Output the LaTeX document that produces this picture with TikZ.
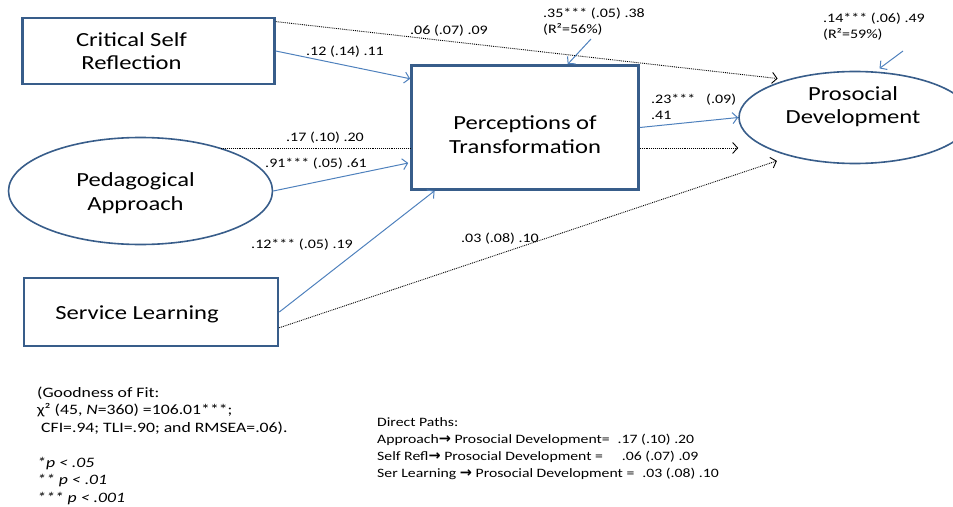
\documentclass[tikz,border=0pt]{standalone}
\usepackage{fontspec}
\setmainfont[FakeStretch=1.23]{Carlito}
\newfontfamily\arrowfont{DejaVu Sans}
\newcommand\pathto{{\arrowfont\bfseries\fontsize{14.5}{17.3}\selectfont →}}
\usetikzlibrary{arrows.meta, shapes.geometric, calc}
\definecolor{BoxBlue}{RGB}{56,93,138}
\definecolor{PathBlue}{RGB}{79,129,189}

\begin{document}
\begin{tikzpicture}[x=1pt, y=-1pt,
	every node/.style={font=\fontsize{13}{16}\selectfont, inner sep=0pt},
	obsbox/.style={rectangle, draw=BoxBlue, line width=2.6pt, fill=white},
	latent/.style={ellipse, draw=BoxBlue, line width=1.6pt, fill=white},
	bigtext/.style={font=\fontsize{20}{23.5}\selectfont, align=center},
	coef/.style={align=left, anchor=west},
	notetext/.style={font=\fontsize{14.4}{17.5}\selectfont, align=left, anchor=north west},
	sigpath/.style={draw=PathBlue, line width=1pt, -{Straight Barb[length=5pt, width=11pt]}},
	dirpath/.style={draw=black, densely dotted, line width=0.9pt, -{Straight Barb[length=5pt, width=11pt]}}]
	\useasboundingbox (0,0) rectangle (953,506);

	\node[obsbox, minimum width=252pt, minimum height=66pt,
		label={[bigtext, xshift=-17pt]center:Critical Self\\Reflection}] (csr) at (148.5,51) {};
	\node[latent, minimum width=264pt, minimum height=107pt,
		label={[bigtext, xshift=-5pt, yshift=-2pt]center:Pedagogical\\Approach}] (ped) at (140.5,191) {};
	\node[obsbox, minimum width=254pt, minimum height=68pt,
		label={[bigtext, xshift=-14pt, yshift=-2pt]center:Service Learning}] (serv) at (151,312) {};
	\node[obsbox, minimum width=227pt, minimum height=124pt,
		label={[bigtext, yshift=-7pt]center:Perceptions of\\Transformation}] (perc) at (525,127.5) {};
	\node[latent, minimum width=232pt, minimum height=92pt,
		label={[bigtext, xshift=-2pt, yshift=11pt]center:Prosocial\\Development}] (pros) at (855,117.5) {};

	\draw[sigpath] (csr.east) -- (perc.157);
	\draw[dirpath, shorten >=9pt] (csr.13) -- (pros.151);
	\draw[sigpath, shorten >=2pt] (ped.east) -- (perc.197);
	\draw[densely dotted, line width=0.9pt] (ped.28) -- (ped.28 -| perc.west);
	\draw[dirpath] (ped.28 -| perc.east) -- (ped.28 -| pros.west);
	\draw[sigpath] (serv.east) -- (perc.-145);
	\draw[dirpath, shorten >=14pt] (serv.-7) -- (pros.-149);
	\draw[sigpath] (perc.east) -- (pros.west);

	\coordinate (eperc) at (591,39);
	\coordinate (epros) at (903,51);
	\draw[sigpath] (eperc) -- (perc.56);
	\draw[sigpath, shorten >=5pt] (epros) -- (pros.66);

	\node (c1) at (345,52) {.12 (.14) .11};
	\node (c2) at (449,31) {.06 (.07) .09};
	\node (c3) at (325,138) {.17 (.10) .20};
	\node (c4) at (316,164) {.91*** (.05) .61};
	\node (c5) at (302,245) {.12*** (.05) .19};
	\node (c6) at (500,239) {.03 (.08) .10};
	\node[coef] (c7) at (651,107) {.23***~~~(.09)\\.41};
	\node[coef] (r1) at (543,22) {.35*** (.05) .38\\(R²=56\%)};
	\node[coef] (r2) at (823,27) {.14*** (.06) .49\\(R²=59\%)};

	\node[notetext] (fit) at (37,386.5) {(Goodness of Fit:\\
		χ² (45, \textit{N}=360) =106.01***;\\
		\hspace{4pt}CFI=.94; TLI=.90; and RMSEA=.06).\\[17.5pt]
		\textit{*p < .05}\\
		\textit{** p < .01}\\
		\textit{*** p < .001}};
	\node[notetext, font=\fontsize{12.8}{17.3}\selectfont] (direct) at (377,417) {Direct Paths:\\
		Approach\pathto{} Prosocial Development=\hspace{8pt}.17 (.10) .20\\
		Self Refl\pathto{} Prosocial Development =\hspace{19pt}.06 (.07) .09\\
		Ser Learning \pathto{} Prosocial Development =\hspace{8pt}.03 (.08) .10};
\end{tikzpicture}
\end{document}
